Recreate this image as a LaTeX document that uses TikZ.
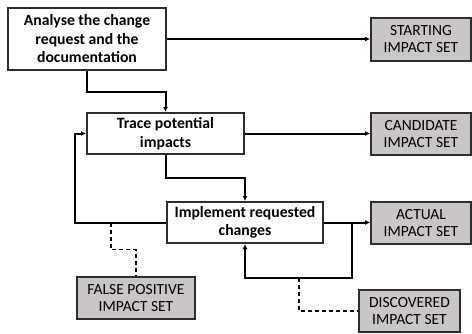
\documentclass[tikz,border=0pt]{standalone}
\usepackage{fontspec}
\setmainfont{Carlito}
\usepackage{tikz}
\usetikzlibrary{arrows.meta,calc}

\definecolor{setgray}{RGB}{201,197,201}
\definecolor{boxline}{RGB}{45,45,45}

\begin{document}
\begin{tikzpicture}[x=1pt,y=-1pt,
  task/.style={draw=boxline,line width=2pt,fill=white,align=center,inner sep=1pt,
    font=\fontsize{15.7}{18.5}\selectfont\bfseries},
  impactset/.style={draw=boxline,line width=1.8pt,fill=setgray,align=center,inner sep=1pt,
    minimum width=100,font=\fontsize{15.5}{17}\selectfont},
  flow/.style={line width=2pt,-{Latex[length=5pt,width=5pt]}},
  dashline/.style={line width=1.8pt,dash pattern=on 4pt off 3pt}]
\useasboundingbox (0,0) rectangle (472,333);

% activities
\node[task,minimum width=158,minimum height=62] (analyse) at (87,39)
  {Analyse the change\\request and the\\documentation};
\node[task,minimum width=157,minimum height=41] (trace) at (165.5,133.5)
  {Trace potential\\impacts};
\node[task,minimum width=156,minimum height=41] (implement) at (245,222.5)
  {Implement requested\\changes};

% impact sets
\node[impactset,minimum height=43] (starting) at (421,39.5) {STARTING\\IMPACT SET};
\node[impactset,minimum height=42] (candidate) at (421,134) {CANDIDATE\\IMPACT SET};
\node[impactset,minimum height=42] (actual) at (421,223) {ACTUAL\\IMPACT SET};
\node[impactset,minimum width=118,minimum height=42] (falsepos) at (136,298)
  {FALSE POSITIVE\\IMPACT SET};
\node[impactset,minimum width=101,minimum height=42] (discovered) at (409.5,311)
  {DISCOVERED\\IMPACT SET};

% helper points
\coordinate (junc) at (352,223);
\coordinate (loopbot) at (352,278);
\coordinate (dtap) at (299,278);
\coordinate (leftcol) at (75,0);
\coordinate (ftap) at (111,223);

% main flow
\draw[flow] (analyse.east) -- (analyse.east -| starting.west);
\draw[flow] (analyse.south) |- ($(analyse.south)!0.5!(trace.north)$) -| (trace.north);
\draw[flow] (trace.east) -- (trace.east -| candidate.west);
\draw[flow] (trace.south) |- ($(trace.south)!0.5!(implement.north)$) -| (implement.north);
\draw[flow] (implement.east) -- (implement.east -| actual.west);

% feedback loops
\draw[flow] (junc) -- (loopbot) -| (implement.south);
\draw[flow] (implement.west) -| (leftcol |- trace.west) -- (trace.west);

% dashed links
\draw[dashline] (dtap) |- (discovered.west);
\draw[dashline] (ftap) |- ($(ftap)!0.5!(falsepos.north)$) -| (falsepos.north);
\end{tikzpicture}
\end{document}
